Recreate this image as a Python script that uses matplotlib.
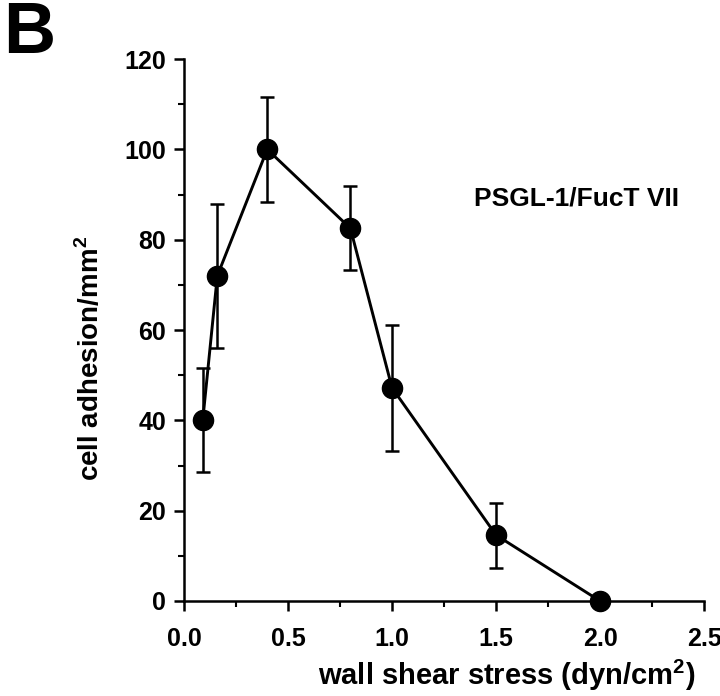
import matplotlib
matplotlib.use("Agg")
import matplotlib.pyplot as plt
from matplotlib.ticker import MultipleLocator

plt.rcParams['font.family'] = ['Liberation Sans', 'DejaVu Sans']
plt.rcParams['font.weight'] = 'bold'
plt.rcParams['mathtext.fontset'] = 'custom'
plt.rcParams['mathtext.bf'] = 'Liberation Sans:bold'
plt.rcParams['mathtext.rm'] = 'Liberation Sans:bold'

shear = [0.09, 0.16, 0.4, 0.8, 1.0, 1.5, 2.0]
adhesion = [40, 72, 100, 82.5, 47.2, 14.6, 0]
err = [11.5, 16, 11.7, 9.3, 13.9, 7.2, 0]

x_ticks = [0.0, 0.5, 1.0, 1.5, 2.0, 2.5]
x_ticklabels = ["0.0", "0.5", "1.0", "1.5", "2.0", "2.5"]
y_ticks = [0, 20, 40, 60, 80, 100, 120]

fig = plt.figure(figsize=(7.2, 6.96), dpi=100)
ax = fig.add_axes([0.2556, 0.1365, 0.7222, 0.7787])

ax.errorbar(shear, adhesion, yerr=err, color='black', lw=2.1, marker='o',
            markersize=14.5, capsize=5, capthick=1.8, elinewidth=1.8,
            clip_on=False, zorder=3)

ax.set_xlim(0, 2.5)
ax.set_ylim(0, 120)
ax.set_xticks(x_ticks)
ax.set_xticklabels(x_ticklabels)
ax.set_yticks(y_ticks)
ax.xaxis.set_minor_locator(MultipleLocator(0.25))
ax.yaxis.set_minor_locator(MultipleLocator(10))

for s in ['top', 'right']:
    ax.spines[s].set_visible(False)
for s in ['left', 'bottom']:
    ax.spines[s].set_linewidth(1.8)

ax.tick_params(which='major', direction='out', length=7, width=1.8,
               labelsize=18)
ax.tick_params(axis='x', which='major', pad=12)
ax.tick_params(axis='y', which='major', pad=6)
ax.tick_params(which='minor', direction='out', length=4.5, width=1.5)
for lbl in ax.get_xticklabels() + ax.get_yticklabels():
    lbl.set_fontweight('bold')

fig.text(507 / 720, 1 - 675 / 696, "wall shear stress (dyn/cm$^{\\mathbf{2}}$)",
         fontsize=21, fontweight='bold', ha='center', va='center')
fig.text(90 / 720, 1 - 358 / 696, "cell adhesion/mm$^{\\mathbf{2}}$",
         fontsize=20, fontweight='bold', ha='center', va='center',
         rotation=90)

fig.text(576 / 720, 1 - 198 / 696, "PSGL-1/FucT VII",
         fontsize=19, fontweight='bold', ha='center', va='center')

fig.text(0.004, 1.0, "B", fontsize=52, fontweight='bold', ha='left', va='top')

fig.savefig("out.png", dpi=100)
